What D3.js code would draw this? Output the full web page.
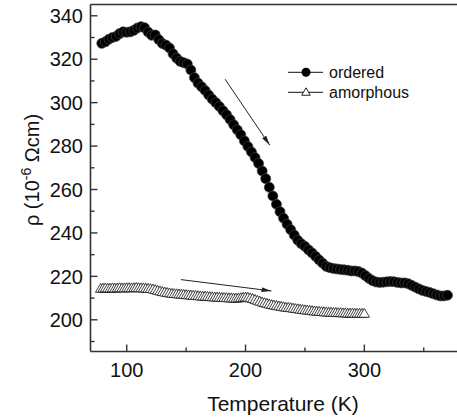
<!DOCTYPE html>
<html>
<head>
<meta charset="utf-8">
<script src="https://cdn.jsdelivr.net/npm/d3@7"></script>
<style>
  body { margin: 0; background: #fff; }
  svg { display: block; font-family: "Liberation Sans", Arial, sans-serif; }
</style>
</head>
<body>
<svg id="chart"></svg>
<script>
// ordered sample (filled circles), T in K, rho in 10^-6 Ohm cm
const orderedT = [79, 82, 85, 88, 91, 94, 97, 100, 103, 106, 109, 112, 115, 118, 121, 124, 127, 130,
  133, 136, 139, 142, 145, 148, 151, 154, 157, 160, 163, 166, 169, 172, 175, 178, 181, 184, 187, 190,
  193, 196, 199, 202, 205, 208, 211, 214, 217, 220, 223, 226, 229, 232, 235, 238, 241, 244, 247, 250,
  253, 256, 259, 262, 265, 268, 271, 274, 277, 280, 283, 286, 289, 292, 295, 298, 301, 304, 307, 310,
  313, 316, 319, 322, 325, 328, 331, 334, 337, 340, 343, 346, 349, 352, 355, 358, 361, 364, 367, 370];
const orderedRho = [327.3, 328.0, 329.2, 330.0, 330.5, 331.8, 332.6, 332.4, 332.6, 333.3, 334.4, 335.0,
  334.5, 332.5, 331.0, 331.2, 329.0, 327.2, 326.5, 325.2, 322.5, 320.5, 319.0, 318.4, 317.8, 315.0,
  311.5, 309.0, 307.3, 305.6, 303.5, 301.6, 300.0, 298.2, 296.3, 294.4, 292.2, 289.8, 287.5, 285.2,
  282.4, 279.8, 277.3, 274.7, 272.0, 268.5, 265.0, 261.0, 257.0, 253.2, 249.8, 246.8, 244.0, 241.5,
  239.0, 236.6, 235.0, 233.8, 232.2, 230.8, 229.2, 227.5, 226.0, 224.6, 224.0, 223.6, 223.4, 223.2,
  223.0, 222.8, 222.5, 222.5, 222.2, 221.5, 220.3, 219.0, 218.0, 217.4, 217.2, 217.3, 217.5, 217.6,
  217.5, 217.2, 217.0, 217.0, 216.6, 215.8, 215.0, 214.2, 213.5, 213.0, 212.6, 212.0, 211.4, 211.0,
  211.0, 211.3];

// amorphous sample (open triangles)
const amorphT = [78, 80, 82, 84, 86, 88, 90, 92, 94, 96, 98, 100, 102, 104, 106, 108, 110, 112, 114,
  116, 118, 120, 122, 124, 126, 128, 130, 132, 134, 136, 138, 140, 142, 144, 146, 148, 150, 152, 154,
  156, 158, 160, 162, 164, 166, 168, 170, 172, 174, 176, 178, 180, 182, 184, 186, 188, 190, 192, 194,
  196, 198, 200, 202, 204, 206, 208, 210, 212, 214, 216, 218, 220, 222, 224, 226, 228, 230, 232, 234,
  236, 238, 240, 242, 244, 246, 248, 250, 252, 254, 256, 258, 260, 262, 264, 266, 268, 270, 272, 274,
  276, 278, 280, 282, 284, 286, 288, 290, 292, 294, 296, 298, 300];
const amorphRho = [214.4, 214.5, 214.6, 214.5, 214.5, 214.6, 214.5, 214.6, 214.7, 214.6, 214.6, 214.7,
  214.7, 214.6, 214.7, 214.8, 214.7, 214.6, 214.6, 214.5, 214.4,
  214.3, 214.1, 213.8, 213.5, 213.2, 212.9,
  212.7, 212.5, 212.3, 212.1, 212.0, 211.9, 211.8, 211.7, 211.6, 211.5, 211.4, 211.3, 211.2, 211.1, 211.0,
  210.9, 210.8, 210.8, 210.7, 210.6, 210.5, 210.4, 210.4, 210.3, 210.2, 210.2, 210.1, 210.0, 210.0,
  209.9, 209.9, 210.0, 210.1,
  210.3, 210.4, 210.3, 210.0, 209.7, 209.3, 208.9,
  208.5, 208.1, 207.8, 207.5, 207.2, 206.9, 206.7, 206.5, 206.3, 206.1, 205.9, 205.7, 205.6, 205.5, 205.3,
  205.1, 205.0, 204.8, 204.7, 204.5, 204.4, 204.3, 204.1, 204.0, 203.9, 203.8, 203.7, 203.6, 203.5, 203.4,
  203.4, 203.3, 203.3, 203.2, 203.2, 203.1, 203.1, 203.0, 203.0, 203.0, 202.9, 202.9, 202.9, 202.9, 202.9];

const xTicks = [100, 200, 300];
const xMinorTicks = [150, 250, 350];
const yTicks = [200, 220, 240, 260, 280, 300, 320, 340];
const yMinorTicks = [190, 210, 230, 250, 270, 290, 310, 330];
const seriesNames = ["ordered", "amorphous"];

// arrows [T0, rho0, T1, rho1]
const arrows = [
  [182.8, 310.8, 220.4, 280.4],
  [145.6, 218.5, 221.8, 213.3],
];

const width = 457, height = 417;
const margin = { top: 4.5, left: 90.5, bottom: 351.5 };

const svg = d3.select("#chart").attr("width", width).attr("height", height);

const x = d3.scaleLinear().domain([69.5, 380]).range([margin.left, margin.left + 310.5 * 1.188]);
const y = d3.scaleLinear().domain([185.4, 345.2]).range([margin.bottom, margin.top]);

const ordered = orderedT.map((t, i) => ({ t, v: orderedRho[i] }));
const amorph = amorphT.map((t, i) => ({ t, v: amorphRho[i] }));

const defs = svg.append("defs");
defs.append("marker")
  .attr("id", "head")
  .attr("markerUnits", "userSpaceOnUse")
  .attr("viewBox", "0 -3 10 6")
  .attr("refX", 10).attr("refY", 0)
  .attr("markerWidth", 10).attr("markerHeight", 6)
  .attr("orient", "auto")
  .append("path")
  .attr("d", "M0,-2.4L10,0L0,2.4Z")
  .attr("fill", "#222");

const line = d3.line().x((d) => x(d.t)).y((d) => y(d.v));
const tri = d3.symbol().type(d3.symbolTriangle).size(46);

// amorphous series
svg.append("path").datum(amorph)
  .attr("d", line).attr("fill", "none").attr("stroke", "#111").attr("stroke-width", 1);
svg.append("g").selectAll("path")
  .data(amorph)
  .join("path")
  .attr("d", tri)
  .attr("transform", (d) => `translate(${x(d.t)},${y(d.v) + 0.8})`)
  .attr("fill", "#fff")
  .attr("stroke", "#111")
  .attr("stroke-width", 0.8);

// ordered series
svg.append("path").datum(ordered)
  .attr("d", line).attr("fill", "none").attr("stroke", "#000").attr("stroke-width", 1);
svg.append("g").selectAll("circle")
  .data(ordered)
  .join("circle")
  .attr("cx", (d) => x(d.t))
  .attr("cy", (d) => y(d.v))
  .attr("r", 5)
  .attr("fill", "#000")
  .attr("stroke", "#444")
  .attr("stroke-width", 0.7);

// arrows
svg.append("g").selectAll("line")
  .data(arrows)
  .join("line")
  .attr("x1", (d) => x(d[0])).attr("y1", (d) => y(d[1]))
  .attr("x2", (d) => x(d[2])).attr("y2", (d) => y(d[3]))
  .attr("stroke", "#222").attr("stroke-width", 1)
  .attr("marker-end", "url(#head)");

// frame and ticks
const axisColor = "#333";
svg.append("line")
  .attr("x1", margin.left).attr("x2", width + 2)
  .attr("y1", margin.top).attr("y2", margin.top)
  .attr("stroke", axisColor).attr("stroke-width", 1.6);
svg.append("line")
  .attr("x1", margin.left).attr("x2", width + 2)
  .attr("y1", margin.bottom).attr("y2", margin.bottom)
  .attr("stroke", axisColor).attr("stroke-width", 1.6);
svg.append("line")
  .attr("x1", margin.left).attr("x2", margin.left)
  .attr("y1", margin.top).attr("y2", margin.bottom)
  .attr("stroke", axisColor).attr("stroke-width", 1.6);

const xAxis = svg.append("g");
xAxis.selectAll(".major").data(xTicks).join("line")
  .attr("x1", (d) => x(d)).attr("x2", (d) => x(d))
  .attr("y1", margin.bottom).attr("y2", margin.bottom - 7)
  .attr("stroke", axisColor).attr("stroke-width", 1.4);
xAxis.selectAll(".minor").data(xMinorTicks).join("line")
  .attr("x1", (d) => x(d)).attr("x2", (d) => x(d))
  .attr("y1", margin.bottom).attr("y2", margin.bottom - 4)
  .attr("stroke", axisColor).attr("stroke-width", 1.4);
xAxis.selectAll("text").data(xTicks).join("text")
  .attr("x", (d) => x(d)).attr("y", 377)
  .attr("text-anchor", "middle")
  .attr("font-size", 20)
  .attr("fill", "#111")
  .text((d) => d);

const yAxis = svg.append("g");
yAxis.selectAll(".major").data(yTicks).join("line")
  .attr("x1", margin.left).attr("x2", margin.left + 7)
  .attr("y1", (d) => y(d)).attr("y2", (d) => y(d))
  .attr("stroke", axisColor).attr("stroke-width", 1.4);
yAxis.selectAll(".minor").data(yMinorTicks).join("line")
  .attr("x1", margin.left).attr("x2", margin.left + 4)
  .attr("y1", (d) => y(d)).attr("y2", (d) => y(d))
  .attr("stroke", axisColor).attr("stroke-width", 1.4);
yAxis.selectAll("text").data(yTicks).join("text")
  .attr("x", 83).attr("y", (d) => y(d))
  .attr("dy", "0.36em")
  .attr("text-anchor", "end")
  .attr("font-size", 20)
  .attr("fill", "#111")
  .text((d) => d);

// axis titles
svg.append("text")
  .attr("x", 283).attr("y", 411)
  .attr("text-anchor", "middle")
  .attr("font-size", 21)
  .attr("fill", "#111")
  .text("Temperature (K)");

const yTitle = svg.append("text")
  .attr("transform", "translate(39,170) rotate(-90)")
  .attr("text-anchor", "middle")
  .attr("font-size", 20)
  .attr("fill", "#111");
yTitle.append("tspan").text("ρ (10");
yTitle.append("tspan").attr("font-size", 14).attr("dy", -8).text("-6");
yTitle.append("tspan").attr("dy", 8).text(" Ωcm)");

// legend
const legend = svg.append("g");
const legendY = [72.3, 92.3];
legend.selectAll("line").data(seriesNames).join("line")
  .attr("x1", 288).attr("x2", 323)
  .attr("y1", (d, i) => legendY[i]).attr("y2", (d, i) => legendY[i])
  .attr("stroke", "#111").attr("stroke-width", 1);
legend.append("circle")
  .attr("cx", 306).attr("cy", legendY[0]).attr("r", 4.5)
  .attr("fill", "#000");
legend.append("path")
  .attr("d", d3.symbol().type(d3.symbolTriangle).size(32))
  .attr("transform", `translate(306,${legendY[1] + 0.5})`)
  .attr("fill", "#fff").attr("stroke", "#111").attr("stroke-width", 0.9);
legend.selectAll("text").data(seriesNames).join("text")
  .attr("x", 329).attr("y", (d, i) => legendY[i])
  .attr("dy", "0.36em")
  .attr("font-size", 16)
  .attr("fill", "#111")
  .text((d) => d);
</script>
</body>
</html>
